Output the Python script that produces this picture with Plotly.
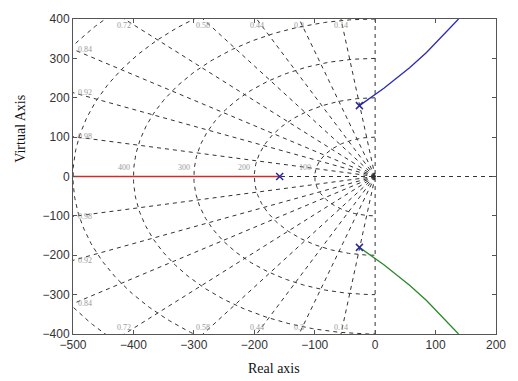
import numpy as np
import plotly.graph_objects as go

# ---- data ----
x_ticks = [-500, -400, -300, -200, -100, 0, 100, 200]
y_ticks = [-400, -300, -200, -100, 0, 100, 200, 300, 400]
zeta_values = [0.14, 0.3, 0.44, 0.58, 0.72, 0.84, 0.92, 0.98]
zeta_top = [0.14, 0.3, 0.44, 0.58, 0.72]
zeta_left = [0.84, 0.92, 0.98]
wn_values = [100, 200, 300, 400, 500, 600]
wn_labels = [100, 200, 300, 400]

real_re = [-500, -158]
real_im = [0, 0]
upper_re = [-26, -12, 0, 15, 30, 57, 85, 112, 138]
upper_im = [180, 195, 208, 225, 243, 276, 315, 357, 400]
lower_re = [-26, -12, 0, 15, 30, 57, 85, 112, 138]
lower_im = [-180, -195, -208, -225, -243, -276, -315, -357, -400]
pole_re = [-158, -26, -26]
pole_im = [0, 180, -180]

XR = [-500, 200]
YR = [-400, 400]

fig = go.Figure()

# ---- s-plane grid (damping rays and natural-frequency circles) ----
gx, gy = [], []
R = 900
for z in zeta_values:
    s = np.sqrt(1 - z * z)
    for sign in (1, -1):
        gx += [0, -R * z, None]
        gy += [0, sign * R * s, None]
theta = np.linspace(np.pi / 2, 3 * np.pi / 2, 240)
for wn in wn_values:
    gx += list(wn * np.cos(theta)) + [None]
    gy += list(wn * np.sin(theta)) + [None]
gx += [0, 0, None, XR[0], XR[1], None]
gy += [YR[0], YR[1], None, 0, 0, None]
fig.add_trace(go.Scatter(x=gx, y=gy, mode="lines",
                         line=dict(color="#333333", width=1, dash="4px,4px"),
                         hoverinfo="skip", showlegend=False))

# ---- root locus branches ----
fig.add_trace(go.Scatter(x=real_re, y=real_im, mode="lines",
                         line=dict(color="#d42a2a", width=1.5), showlegend=False))
fig.add_trace(go.Scatter(x=upper_re, y=upper_im, mode="lines",
                         line=dict(color="#2a2ab8", width=1.3), showlegend=False))
fig.add_trace(go.Scatter(x=lower_re, y=lower_im, mode="lines",
                         line=dict(color="#2a8a2a", width=1.3), showlegend=False))
fig.add_trace(go.Scatter(x=pole_re, y=pole_im, mode="markers",
                         marker=dict(symbol="x-thin", size=7, line=dict(color="#2a2a9a", width=1.5)),
                         showlegend=False))

# ---- grid labels ----
ann = []
lab_font = dict(family="Liberation Serif", size=8, color="#9a9a9a")
for z in zeta_top:
    s = np.sqrt(1 - z * z)
    xt = -YR[1] * z / s
    for sign in (1, -1):
        ann.append(dict(x=xt, y=sign * 384, text=f"{z:g}", showarrow=False,
                        font=lab_font, xanchor="center", yanchor="middle"))
for z in zeta_left:
    s = np.sqrt(1 - z * z)
    yt = -XR[0] * s / z
    for sign in (1, -1):
        ann.append(dict(x=-480, y=sign * yt, text=f"{z:g}", showarrow=False,
                        font=lab_font, xanchor="center", yanchor="middle"))
for wn in wn_labels:
    ann.append(dict(x=-wn - 3, y=22, text=str(wn), showarrow=False,
                    font=lab_font, xanchor="right", yanchor="middle"))

# axis titles
ann.append(dict(xref="paper", yref="paper", x=0.475, y=-0.108, text="Real axis",
                showarrow=False, font=dict(family="Liberation Serif", size=14, color="#111"),
                xanchor="center", yanchor="middle"))
ann.append(dict(xref="paper", yref="paper", x=-0.124, y=0.65, text="Virtual Axis",
                showarrow=False, textangle=-90,
                font=dict(family="Liberation Serif", size=14, color="#111"),
                xanchor="center", yanchor="middle"))

fig.update_layout(
    width=518, height=381,
    margin=dict(l=73, r=17, t=12, b=47),
    paper_bgcolor="white", plot_bgcolor="white",
    annotations=ann,
    xaxis=dict(range=XR, tickvals=x_ticks, showgrid=False, zeroline=False,
               showline=True, linecolor="#555", linewidth=1, mirror="ticks",
               ticks="inside", ticklen=4, tickcolor="#555",
               tickfont=dict(family="Liberation Sans", size=12, color="#333")),
    yaxis=dict(range=YR, tickvals=y_ticks, showgrid=False, zeroline=False,
               showline=True, linecolor="#555", linewidth=1, mirror="ticks",
               ticks="inside", ticklen=4, tickcolor="#555",
               tickfont=dict(family="Liberation Sans", size=12, color="#333")),
)

fig.write_html("out.html")
